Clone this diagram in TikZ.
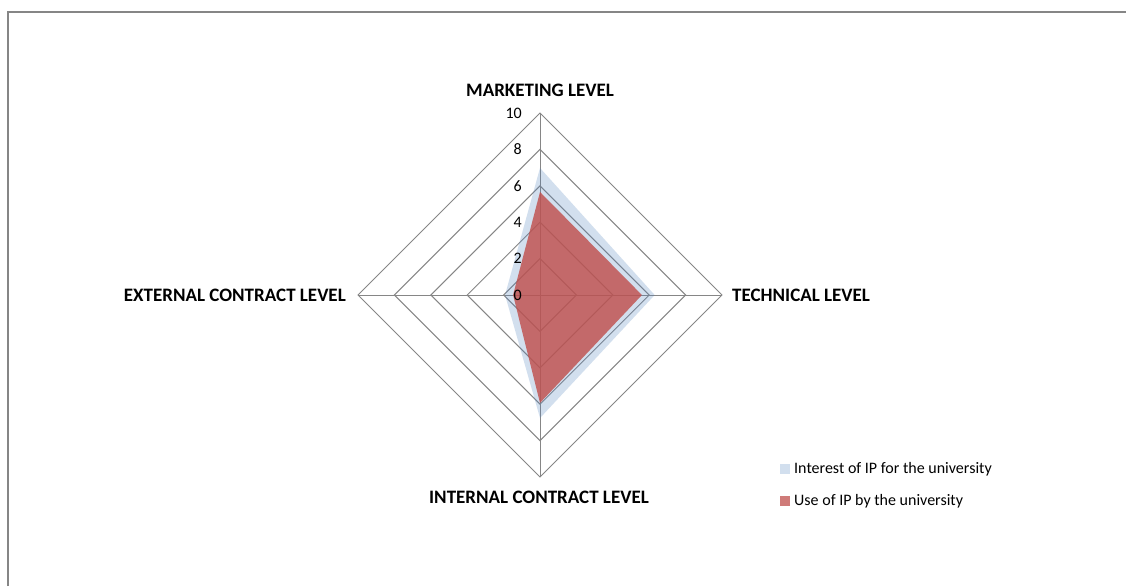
\documentclass[tikz,border=0pt]{standalone}
\usepackage{fontspec}
\setmainfont{Carlito}
\definecolor{gridgray}{RGB}{134,134,134}
\definecolor{serblue}{RGB}{79,129,189}
\definecolor{serred}{RGB}{192,80,77}
\begin{document}
\begin{tikzpicture}[x=1pt,y=-1pt,
  axislabel/.style={font=\fontsize{19}{22}\selectfont\bfseries, inner sep=0pt},
  ticklabel/.style={font=\fontsize{16}{19}\selectfont, anchor=east, inner sep=0pt},
  legendtext/.style={font=\fontsize{16}{19}\selectfont, anchor=west, inner sep=0pt},
  gridline/.style={draw=gridgray, line width=1pt},
  framebox/.style={draw=gridgray, line width=1.3pt},
  interestfill/.style={fill=serblue, fill opacity=0.25},
  usefill/.style={fill=serred, fill opacity=0.82}]
\useasboundingbox (0,0) rectangle (1126,586);
\fill[white] (0,0) rectangle (1126,586);
\draw[framebox] (8,586) -- (8,12) -- (1126,12);
\def\u{18.2}
% grid rings
\foreach \r in {2,4,6,8,10}{
  \draw[gridline] (540,{295-\r*\u}) -- ({540+\r*\u},295) -- (540,{295+\r*\u}) -- ({540-\r*\u},295) -- cycle;
}
% spokes
\coordinate (top) at (540,{295-10*\u});
\coordinate (bot) at (540,{295+10*\u});
\coordinate (lft) at ({540-10*\u},295);
\coordinate (rgt) at ({540+10*\u},295);
\draw[gridline] (top) -- (bot);
\draw[gridline] (lft) -- (rgt);
% series: interest of IP
\fill[interestfill] (540,{295-6.98*\u}) -- ({540+6.3*\u},295) -- (540,{295+6.76*\u}) -- ({540-1.92*\u},295) -- cycle;
% series: use of IP
\fill[usefill] (540,{295-5.66*\u}) -- ({540+5.6*\u},295) -- (540,{295+5.93*\u}) -- ({540-1.48*\u},295) -- cycle;
% tick labels
\foreach \v in {0,2,4,6,8,10}{
  \node[ticklabel] (t\v) at (522,{295-\v*\u}) {\v};
}
% axis labels
\node[axislabel] (mkt) at (540,90) {MARKETING LEVEL};
\node[axislabel, anchor=west] (tec) at (732,295) {TECHNICAL LEVEL};
\node[axislabel] (int) at (539,497) {INTERNAL CONTRACT LEVEL};
\node[axislabel, anchor=east] (ext) at (346,295) {EXTERNAL CONTRACT LEVEL};
% legend
\fill[serblue, fill opacity=0.25] (780,464) rectangle (790,474);
\node[legendtext] (leg1) at (794,469.5) {Interest of IP for the university};
\fill[serred, fill opacity=0.75] (780,496) rectangle (790,506);
\node[legendtext] (leg2) at (794,501.5) {Use of IP by the university};
\end{tikzpicture}
\end{document}
